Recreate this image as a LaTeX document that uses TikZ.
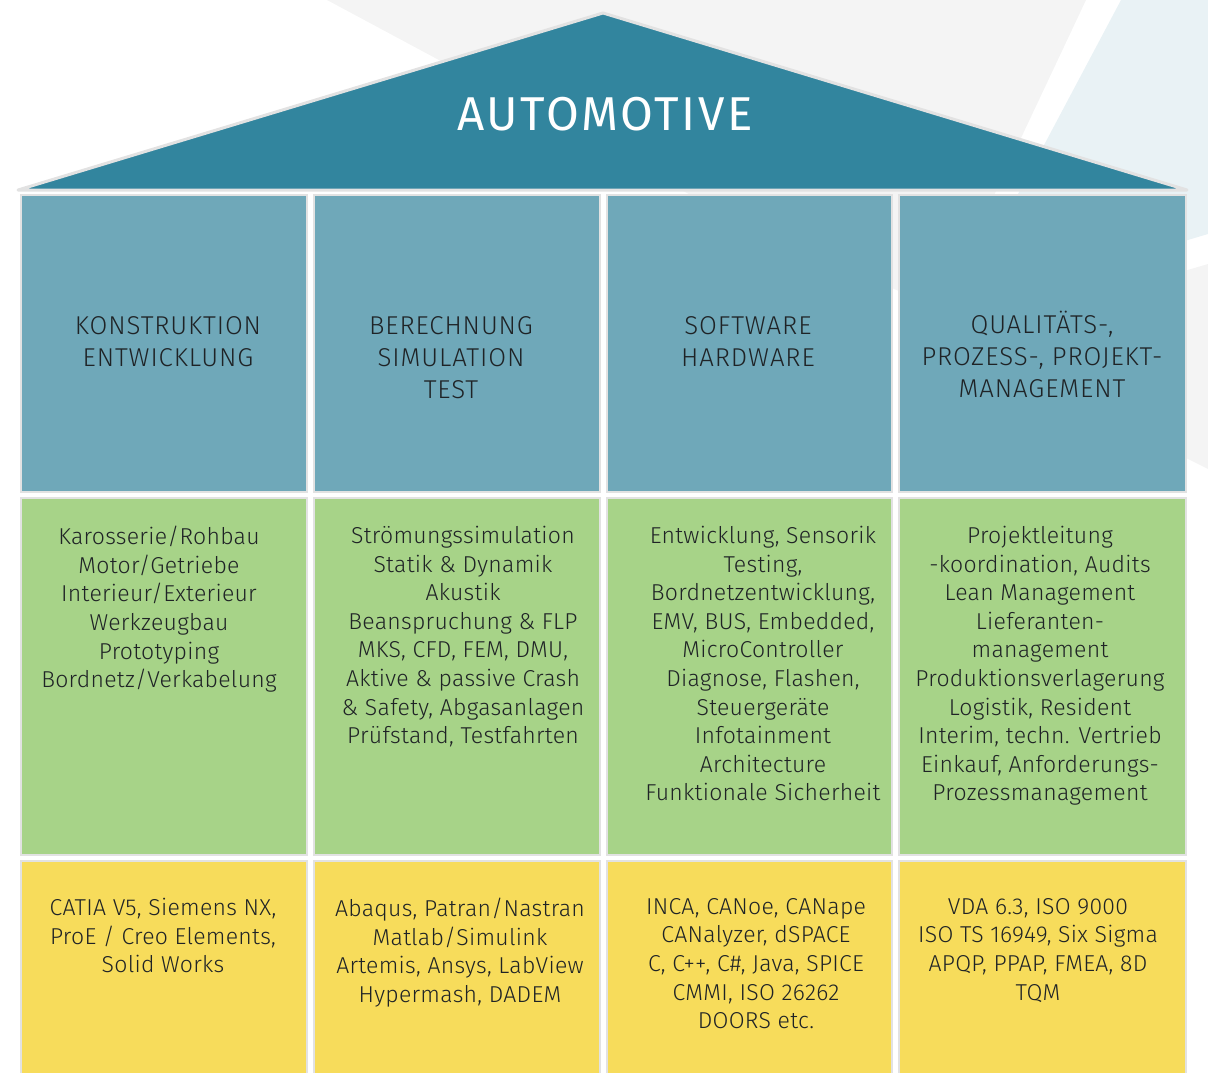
\documentclass[tikz,border=0pt]{standalone}
\usepackage{fontspec}
\setmainfont{Fira Sans Light}
\newfontfamily\rooffont{Fira Sans}[LetterSpace=5.5]
\newfontfamily\headfont{Fira Sans Light}[LetterSpace=3.5]
\newfontfamily\bodyfont{Fira Sans Light}[LetterSpace=1.2]
\usetikzlibrary{positioning}

\definecolor{roofblue}{HTML}{32859E}
\definecolor{headblue}{HTML}{6FA8B9}
\definecolor{leafgreen}{HTML}{A7D388}
\definecolor{sunyellow}{HTML}{F7DC5B}
\definecolor{framegray}{HTML}{E2E2E2}
\definecolor{bggray}{HTML}{F4F4F4}
\definecolor{bgblue}{HTML}{E9F2F5}
\definecolor{inkgray}{HTML}{1F2326}

\tikzset{
	cellbox/.style={draw=framegray, line width=2pt},
	headtxt/.style={anchor=north, align=center, inner sep=0pt, text=inkgray,
		font=\headfont\fontsize{25.8}{32}\selectfont, execute at begin node=\strut},
	bodytxt/.style={anchor=north, align=center, inner sep=0pt, text=inkgray,
		font=\bodyfont\fontsize{23}{28.6}\selectfont, execute at begin node=\strut},
}

\begin{document}
\begin{tikzpicture}[x=1pt, y=-1pt]
			%%%%% START %%%%%
			
			\useasboundingbox (0, 0) rectangle (1208, 1073);
			
			% background facets
			\fill[bggray] (327, 0) -- (1086, 0) -- (940, 310) -- (700, 200) -- cycle;
			\fill[bgblue] (1121, 0) -- (1208, 0) -- (1208, 234) -- (957, 309) -- cycle;
			\fill[bggray] (1208, 264) -- (950, 340) -- (1208, 469) -- cycle;
			
			% roof
			\draw[draw=framegray, line width=3pt, line join=round, fill=roofblue] (18, 190) -- (603, 13) -- (1187, 190) -- cycle;
			\node[anchor=base, inner sep=0pt, text=white, font=\rooffont\fontsize{47.5}{50}\selectfont] (roofTitle) at (605, 130) {AUTOMOTIVE};
			
			% blue row
			\draw[cellbox, fill=headblue] (21, 195) rectangle (307, 492);
			\draw[cellbox, fill=headblue] (314, 195) rectangle (600, 492);
			\draw[cellbox, fill=headblue] (607, 195) rectangle (892, 492);
			\draw[cellbox, fill=headblue] (899, 195) rectangle (1186, 492);
			
			% green row
			\draw[cellbox, fill=leafgreen] (21, 498) rectangle (307, 855);
			\draw[cellbox, fill=leafgreen] (314, 498) rectangle (600, 855);
			\draw[cellbox, fill=leafgreen] (607, 498) rectangle (892, 855);
			\draw[cellbox, fill=leafgreen] (899, 498) rectangle (1186, 855);
			
			% yellow row
			\draw[cellbox, fill=sunyellow] (21, 861) rectangle (307, 1080);
			\draw[cellbox, fill=sunyellow] (314, 861) rectangle (600, 1080);
			\draw[cellbox, fill=sunyellow] (607, 861) rectangle (892, 1080);
			\draw[cellbox, fill=sunyellow] (899, 861) rectangle (1186, 1080);
			
			% headings
			\node[headtxt] (headKon) at (168, 316) {KONSTRUKTION\\ENTWICKLUNG};
			\node[headtxt] (headBer) at (451, 316) {BERECHNUNG\\SIMULATION\\TEST};
			\node[headtxt] (headSoft) at (748, 316) {SOFTWARE\\HARDWARE};
			\node[headtxt] (headQual) at (1042, 311) {QUALITÄTS-,\\PROZESS-, PROJEKT-\\MANAGEMENT};
			
			% fields
			\node[bodytxt] (fieldKon) at (159, 526) {Karosserie/Rohbau\\Motor/Getriebe\\Interieur/Exterieur\\Werkzeugbau\\Prototyping\\Bordnetz/Verkabelung};
			\node[bodytxt] (fieldBer) at (463, 526) {Strömungssimulation\\Statik \& Dynamik\\Akustik\\Beanspruchung \& FLP\\MKS, CFD, FEM, DMU,\\Aktive \& passive Crash\\\& Safety, Abgasanlagen\\Prüfstand, Testfahrten};
			\node[bodytxt] (fieldSoft) at (763, 526) {Entwicklung, Sensorik\\Testing,\\Bordnetzentwicklung,\\EMV, BUS, Embedded,\\MicroController\\Diagnose, Flashen,\\Steuergeräte\\Infotainment\\Architecture\\Funktionale Sicherheit};
			\node[bodytxt] (fieldQual) at (1040, 526) {Projektleitung\\-koordination, Audits\\Lean Management\\Lieferanten-\\management\\Produktionsverlagerung\\Logistik, Resident\\Interim, techn. Vertrieb\\Einkauf, Anforderungs-\\Prozessmanagement};
			
			% tools
			\node[bodytxt] (toolKon) at (163, 898) {CATIA V5, Siemens NX,\\ProE / Creo Elements,\\Solid Works};
			\node[bodytxt] (toolBer) at (460, 898) {Abaqus, Patran/Nastran\\Matlab/Simulink\\Artemis, Ansys, LabView\\Hypermash, DADEM};
			\node[bodytxt] (toolSoft) at (756, 898) {INCA, CANoe, CANape\\CANalyzer, dSPACE\\C, C++, C\#, Java, SPICE\\CMMI, ISO 26262\\DOORS etc.};
			\node[bodytxt] (toolQual) at (1038, 898) {VDA 6.3, ISO 9000\\ISO TS 16949, Six Sigma\\APQP, PPAP, FMEA, 8D\\TQM};
			
			%%%%% END %%%%%
		\end{tikzpicture}
\end{document}
